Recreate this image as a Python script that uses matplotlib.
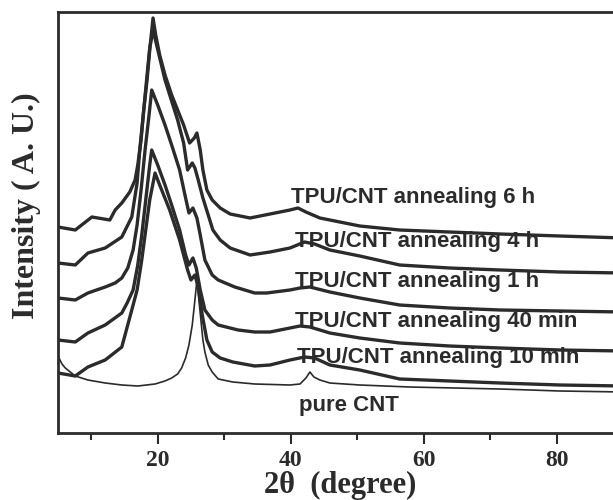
import matplotlib
matplotlib.use("Agg")
import matplotlib.pyplot as plt
from matplotlib.ticker import MultipleLocator

# XRD traces (2-theta in degrees, intensity in arbitrary units)
tt_6h = [5.0, 7.6, 10.1, 12.8, 13.6, 14.6, 15.8, 16.6, 17.0, 17.5, 17.9, 18.4, 18.8, 19.3,
         19.7, 20.3, 21.1, 22.1, 23.0, 23.9, 24.8, 25.5, 25.9, 26.4, 26.8, 27.4, 28.2, 29.4,
         30.9, 33.9, 36.9, 39.9, 41.1, 42.3, 44.4, 47.4, 50.4, 56.4, 63.9, 71.5, 80.5, 90.0]
i_6h = [206, 203, 216, 213, 223, 230, 241, 253, 268, 293, 323, 353, 383, 415,
        398, 378, 358, 338, 323, 308, 290, 295, 300, 283, 263, 243, 233, 225,
        219, 215, 219, 223, 225, 221, 215, 211, 207, 203, 201, 199, 197, 195]

tt_4h = [5.0, 7.6, 9.5, 12.1, 14.6, 16.1, 16.9, 17.3, 17.9, 18.4, 18.8, 19.3, 21.1, 23.0,
         23.9, 24.5, 25.2, 25.6, 26.1, 26.8, 27.6, 28.3, 29.4, 30.9, 33.9, 36.9, 39.9, 42.1,
         43.6, 45.9, 50.4, 56.4, 63.9, 71.5, 80.5, 90.0]
i_4h = [170, 168, 180, 185, 196, 216, 250, 283, 323, 358, 385, 403, 353, 313,
        290, 263, 270, 265, 253, 235, 218, 203, 193, 185, 178, 181, 185, 191,
        189, 183, 177, 168, 165, 163, 161, 160]

tt_1h = [5.0, 7.6, 9.5, 12.1, 13.6, 14.6, 15.5, 16.3, 16.9, 17.5, 18.1, 18.7, 19.1, 20.0,
         21.1, 22.1, 23.3, 24.1, 24.7, 25.3, 25.9, 26.4, 27.1, 28.2, 29.1, 31.6, 34.6, 36.4,
         39.9, 41.4, 42.9, 45.9, 50.4, 56.4, 63.9, 71.5, 80.5, 90.0]
i_1h = [135, 133, 140, 146, 150, 155, 165, 183, 208, 243, 283, 318, 343, 328,
        308, 288, 263, 238, 220, 225, 215, 198, 173, 158, 153, 146, 140, 140,
        143, 145, 146, 141, 135, 128, 125, 123, 122, 121]

tt_40m = [5.0, 7.6, 9.5, 12.1, 14.6, 15.4, 16.3, 17.0, 17.6, 18.2, 18.8, 19.1, 20.0, 21.1,
          22.1, 23.3, 24.2, 24.7, 25.3, 25.8, 26.4, 27.1, 28.2, 29.1, 32.1, 34.6, 36.9, 39.9,
          41.4, 42.9, 45.9, 50.4, 56.4, 63.9, 71.5, 80.5, 90.0]
i_40m = [93, 91, 100, 108, 120, 130, 143, 168, 198, 233, 268, 283, 268, 248,
         228, 203, 178, 168, 175, 165, 143, 123, 113, 108, 103, 101, 101, 105,
         107, 106, 100, 95, 90, 87, 85, 83, 82]

tt_10m = [5.0, 7.6, 9.5, 12.1, 14.6, 16.1, 16.9, 17.6, 18.2, 18.8, 19.6, 20.3, 21.8, 23.3,
          24.5, 25.0, 25.6, 26.1, 26.7, 27.4, 28.2, 29.4, 31.3, 34.6, 36.9, 39.9, 42.1, 43.6,
          45.9, 50.4, 56.4, 63.9, 71.5, 80.5, 90.0]
i_10m = [60, 57, 66, 73, 86, 123, 143, 173, 203, 233, 260, 248, 223, 193,
         163, 153, 158, 146, 118, 93, 81, 75, 71, 67, 68, 73, 76, 75,
         68, 63, 54, 52, 50, 48, 47]

tt_cnt = [5.0, 5.6, 6.1, 7.6, 9.5, 12.1, 14.6, 17.0, 19.6, 21.1, 22.1, 23.0, 23.6, 24.2,
          24.7, 25.2, 25.6, 25.9, 26.2, 26.5, 26.8, 27.1, 27.6, 28.2, 29.1, 31.3, 34.6, 39.9,
          41.4, 42.3, 42.9, 43.5, 44.4, 45.9, 50.4, 57.9, 71.5, 80.5, 90.0]
i_cnt = [77, 69, 65, 57, 53, 50, 48, 47, 49, 52, 55, 59, 65, 75,
         88, 108, 133, 153, 133, 113, 93, 81, 68, 61, 54, 51, 49, 48,
         49, 55, 61, 56, 53, 50, 48, 46, 44, 42, 41]

labels = ["TPU/CNT annealing 6 h", "TPU/CNT annealing 4 h", "TPU/CNT annealing 1 h",
          "TPU/CNT annealing 40 min", "TPU/CNT annealing 10 min", "pure CNT"]
label_x = [40.0, 40.6, 40.6, 40.6, 40.9, 41.2]
label_y = [236, 192, 152, 111, 76, 27]

ink = "#2b2b2b"

fig = plt.figure(figsize=(6.13, 5.0), dpi=100)
# the reference is cropped on the right, so the axes run past the figure edge
ax = fig.add_axes([0.0946, 0.134, 0.9217, 0.842])

for tt, ii in [(tt_6h, i_6h), (tt_4h, i_4h), (tt_1h, i_1h), (tt_40m, i_40m), (tt_10m, i_10m)]:
    ax.plot(tt, ii, color=ink, lw=2.4, solid_joinstyle="round")
ax.plot(tt_cnt, i_cnt, color=ink, lw=1.2)

for txt, x, y in zip(labels, label_x, label_y):
    ax.text(x, y, txt, fontsize=16, fontweight="bold", family="Liberation Sans",
            color=ink, va="center", ha="left")

ax.set_xlim(5, 90)
ax.set_ylim(0, 421)
ax.set_yticks([])
ax.xaxis.set_major_locator(MultipleLocator(20))
ax.xaxis.set_minor_locator(MultipleLocator(10))
ax.tick_params(axis="x", which="major", length=8, width=1.5, color=ink, direction="out",
               labelsize=17, pad=4)
ax.tick_params(axis="x", which="minor", length=5, width=1.5, color=ink, direction="out")
for lab in ax.get_xticklabels():
    lab.set_family("Liberation Serif")
    lab.set_fontweight("bold")
    lab.set_color(ink)
for s in ax.spines.values():
    s.set_linewidth(2)
    s.set_color(ink)

ax.set_xlabel("2θ  (degree)", fontsize=22, fontweight="bold", family="Liberation Serif",
              color=ink, labelpad=0)
ax.set_ylabel("Intensity ( A. U.)", fontsize=23, fontweight="bold", family="Liberation Serif",
              color=ink)
ax.yaxis.set_label_coords(-0.03, 0.54)

fig.savefig("out.png", dpi=100)
